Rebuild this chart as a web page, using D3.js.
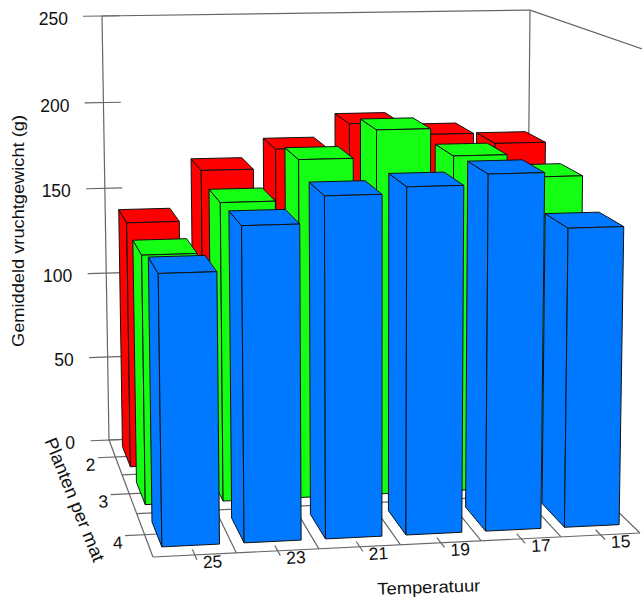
<!DOCTYPE html>
<html><head><meta charset="utf-8">
<script src="https://cdnjs.cloudflare.com/ajax/libs/d3/7.8.5/d3.min.js"></script>
<style>html,body{margin:0;padding:0;background:#fff}svg{display:block}text{font-family:"Liberation Sans",Arial,sans-serif;fill:#111}</style>
</head><body><svg id="c" width="642" height="598"></svg>
<script>
// data
const temperatures = ["25","23","21","19","17","15"];
const plantsPerMat = ["2","3","4"];
const red2   = [140,168.5,179.5,193,186,180];
const green3 = [136,163,185,200,185,172.5];
const blue4  = [141,164,178,181.5,187,158];
const valueTicks = [0,50,100,150,200,250];
const seriesColors = ["#ff0000","#14ff14","#0078ff"];
const valueTitle = "Gemiddeld vruchtgewicht (g)";
const plantsTitle = "Planten per mat";
const tempTitle = "Temperatuur";

// scales into a unit box
const xS = d3.scaleBand().domain(temperatures).range([0,1]).paddingInner(.3).paddingOuter(.15);
const yS = d3.scaleBand().domain(plantsPerMat).range([0,1]).paddingInner(.42).paddingOuter(.21);
const zS = d3.scaleLinear().domain([0,250]).range([0,1]);

// perspective box from its visible corners
const cA=[109,440], cG=[526,422.7], cC=[640,533], cB=[153,557], cD=[102,16], cE=[530,10];
const cross=(p,q)=>[p[1]*q[2]-p[2]*q[1],p[2]*q[0]-p[0]*q[2],p[0]*q[1]-p[1]*q[0]];
const hom=p=>[p[0],p[1],1];
const dx1=cG[0]-cC[0],dx2=cB[0]-cC[0],sx=cA[0]-cG[0]+cC[0]-cB[0];
const dy1=cG[1]-cC[1],dy2=cB[1]-cC[1],sy=cA[1]-cG[1]+cC[1]-cB[1];
const det=dx1*dy2-dx2*dy1;
const g=(sx*dy2-dx2*sy)/det, h=(dx1*sy-sx*dy1)/det;
const a=cG[0]-cA[0]+g*cG[0], b=cB[0]-cA[0]+h*cB[0], c=cA[0];
const d=cG[1]-cA[1]+g*cG[1], e=cB[1]-cA[1]+h*cB[1], f=cA[1];
const V=cross(cross(hom(cA),hom(cD)),cross(hom(cG),hom(cE)));
const k=(f-cD[1])/(cD[1]*V[2]-V[1]);
function P(u,v,w){
  const W=g*u+h*v+1+k*V[2]*w;
  return [(a*u+b*v+c+k*V[0]*w)/W,(d*u+e*v+f+k*V[1]*w)/W];
}
const svg=d3.select("#c");
const line=d3.line();
function seg(p,q){svg.append("path").attr("d",line([p,q])).attr("fill","none").attr("stroke","#666").attr("stroke-width",1.2);}

// floor & walls
seg(P(0,0,0),P(0,1,0));seg(P(0,1,0),P(1,1,0));seg(P(1,1,0),P(1,0,0));seg(P(1,0,0),P(0,0,0));
seg(P(0,0,0),P(0,0,1));seg(P(0,0,1),P(1,0,1));seg(P(1,0,1),P(1,0,0));seg(P(1,0,1),P(1,1,1));
// floor grid
const step=xS.step(), ystep=yS.step();
temperatures.forEach((t,i)=>{ if(i>0) seg(P(i*step,0,0),P(i*step,1,0)); });
plantsPerMat.forEach((t,i)=>{ if(i>0) seg(P(0,i*ystep,0),P(1,i*ystep,0)); });
// ticks
valueTicks.forEach(t=>{
  seg(P(-.043,0,zS(t)),P(.04,0,zS(t)));
  const p=P(0,0,zS(t));
  svg.append("text").attr("x",p[0]-34).attr("y",p[1]+9).attr("text-anchor","end").attr("font-size",17.5).text(t);
});
plantsPerMat.forEach(t=>{
  const yy=yS(t)+yS.bandwidth()/2, l=P(-.04,yy,0);
  seg(l,P(.03,yy,0));
  svg.append("text").attr("x",l[0]-7).attr("y",l[1]+13).attr("text-anchor","middle").attr("font-size",17.5)
    .attr("transform",`rotate(-3 ${l[0]-7} ${l[1]+13})`).text(t);
});
temperatures.forEach(t=>{
  const xx=xS(t)+xS.bandwidth()/2, q=P(xx,1.035,0);
  seg(P(xx,.96,0),q);
  svg.append("text").attr("x",q[0]+16).attr("y",q[1]+8).attr("text-anchor","middle").attr("font-size",17.5)
    .attr("transform",`rotate(-3 ${q[0]+16} ${q[1]+8})`).text(t);
});
// bars, back to front
const series=[red2,green3,blue4];
const poly=(pts,col)=>svg.append("path").attr("d",line(pts)+"Z").attr("fill",col)
  .attr("stroke","#111").attr("stroke-width",1).attr("stroke-linejoin","round");
plantsPerMat.forEach((pl,r)=>{
  const y0=yS(pl), y1=y0+yS.bandwidth();
  d3.range(temperatures.length-1,-1,-1).forEach(i=>{
    const x0=xS(temperatures[i]), x1=x0+xS.bandwidth(), z=zS(series[r][i]), col=seriesColors[r];
    poly([P(x0,y0,0),P(x0,y1,0),P(x0,y1,z),P(x0,y0,z)],col);
    poly([P(x0,y0,z),P(x1,y0,z),P(x1,y1,z),P(x0,y1,z)],col);
    poly([P(x0,y1,0),P(x1,y1,0),P(x1,y1,z),P(x0,y1,z)],col);
  });
});
// titles
svg.append("text").attr("transform","translate(24,231) rotate(-90)").attr("text-anchor","middle")
  .attr("font-size",17).attr("textLength",232).attr("lengthAdjust","spacingAndGlyphs").text(valueTitle);
svg.append("text").attr("transform","translate(69,502) rotate(68)").attr("text-anchor","middle")
  .attr("font-size",18).attr("textLength",132).attr("lengthAdjust","spacingAndGlyphs").text(plantsTitle);
svg.append("text").attr("transform","translate(429,593) rotate(-2)").attr("text-anchor","middle")
  .attr("font-size",17).attr("textLength",103).attr("lengthAdjust","spacingAndGlyphs").text(tempTitle);
</script></body></html>
